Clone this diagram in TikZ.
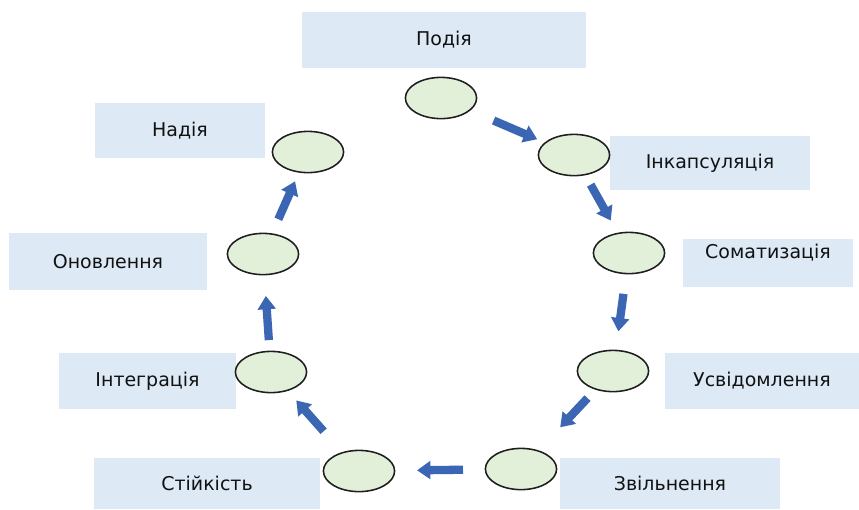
\documentclass[tikz,border=0pt]{standalone}
\usepackage{fontspec}
\setmainfont{DejaVu Sans}
\usepackage{tikz}
\usetikzlibrary{arrows.meta, shapes.geometric}
\definecolor{cyBox}{HTML}{DDE9F5}
\definecolor{cyLeaf}{HTML}{E2EFD9}
\definecolor{cyRim}{HTML}{1E1E1E}
\definecolor{cyArrow}{HTML}{3A66B4}
\definecolor{cyInk}{HTML}{111111}

\begin{document}
\begin{tikzpicture}[x=0.025cm, y=-0.025cm,
      stagebox/.style={fill=cyBox, draw=none, inner sep=0pt,
                       font=\fontsize{13.5}{15}\selectfont, text=cyInk},
      leaf/.style={ellipse, draw=cyRim, fill=cyLeaf, line width=1.1pt,
                   minimum width=1.78cm, minimum height=1.03cm, inner sep=0pt},
      flow/.style={cyArrow, line width=5.9pt,
                   -{Triangle[length=9.5pt, width=12.5pt]}}]
    \useasboundingbox (0,0) rectangle (859,509);
    \node[stagebox, minimum width=7.1cm,  minimum height=1.4cm]  (pod) at (444,40)    {Подія};
    \node[stagebox, minimum width=5.0cm,  minimum height=1.35cm] (ink) at (710,163)   {Інкапсуляція};
    \node[stagebox, minimum width=4.23cm, minimum height=1.2cm,
          text height=10pt, text depth=17pt]                    (som) at (768,263)   {Соматизація};
    \node[stagebox, minimum width=4.83cm, minimum height=1.38cm] (usv) at (762,381)   {Усвідомлення};
    \node[stagebox, minimum width=5.5cm,  minimum height=1.28cm] (zvi) at (670,483.5) {Звільнення};
    \node[stagebox, minimum width=5.63cm, minimum height=1.28cm] (sti) at (207,483.5) {Стійкість};
    \node[stagebox, minimum width=4.43cm, minimum height=1.4cm]  (int) at (147.5,381) {Інтеграція};
    \node[stagebox, minimum width=4.95cm, minimum height=1.43cm] (onv) at (108,261.5) {Оновлення};
    \node[stagebox, minimum width=4.25cm, minimum height=1.38cm] (nad) at (180,130.5) {Надія};
    \node[leaf] (e1) at (441,98)  {};
    \node[leaf] (e2) at (574,155) {};
    \node[leaf] (e3) at (629,253) {};
    \node[leaf] (e4) at (613,371) {};
    \node[leaf] (e5) at (521,469) {};
    \node[leaf] (e6) at (359,471) {};
    \node[leaf] (e7) at (271,372) {};
    \node[leaf] (e8) at (263,254) {};
    \node[leaf] (e9) at (308,152) {};
    \draw[flow, shorten <=1.43cm, shorten >=1.0cm]  (e1.center) -- (e2.center);
    \draw[flow, shorten <=0.85cm, shorten >=0.93cm] (e2.center) -- (e3.center);
    \draw[flow, shorten <=1.03cm, shorten >=1.0cm]  (e3.center) -- (e4.center);
    \draw[flow, shorten <=0.93cm, shorten >=1.43cm] (e4.center) -- (e5.center);
    \draw[flow, shorten <=1.45cm, shorten >=1.45cm] (e5.center) -- (e6.center);
    \draw[flow, shorten <=1.33cm, shorten >=0.95cm] (e6.center) -- (e7.center);
    \draw[flow, shorten <=0.8cm,  shorten >=1.05cm] (e7.center) -- (e8.center);
    \draw[flow, shorten <=0.95cm, shorten >=0.8cm]  (e8.center) -- (e9.center);
  \end{tikzpicture}
\end{document}
